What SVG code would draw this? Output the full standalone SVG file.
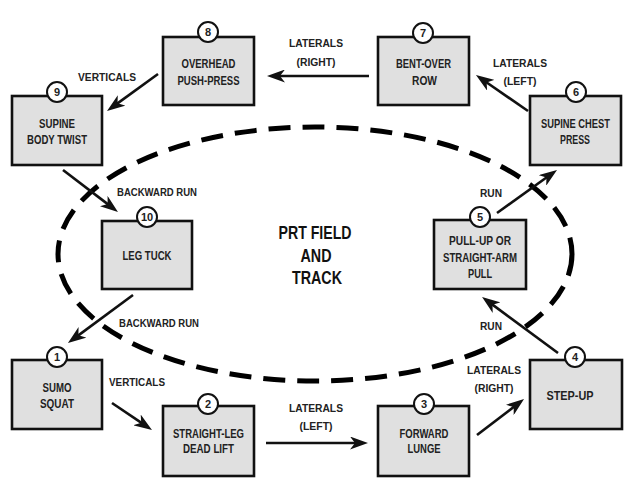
<svg xmlns="http://www.w3.org/2000/svg" width="625" height="483" viewBox="0 0 625 483">
<defs>
<style>
.box{fill:#e0e0e0;stroke:#111;stroke-width:2.6}
.num{fill:#fff;stroke:#111;stroke-width:2}
.t{font-family:"Liberation Sans Narrow","Liberation Sans",Arial,sans-serif;font-weight:bold;font-size:13px;fill:#222;text-anchor:middle}
.n{font-family:"Liberation Sans Narrow","Liberation Sans",Arial,sans-serif;font-weight:bold;font-size:11px;fill:#222;text-anchor:middle}
.l{font-family:"Liberation Sans Narrow","Liberation Sans",Arial,sans-serif;font-weight:bold;font-size:11.5px;fill:#222;text-anchor:middle}
.c{font-family:"Liberation Sans Narrow","Liberation Sans",Arial,sans-serif;font-weight:bold;font-size:18px;fill:#111;text-anchor:middle}
.a{fill:none;stroke:#111;stroke-width:2.6;marker-end:url(#ah)}
.track{fill:none;stroke:#000;stroke-width:5;stroke-dasharray:22 12}
</style>
<marker id="ah" markerUnits="userSpaceOnUse" viewBox="0 0 18 13" markerWidth="18" markerHeight="13" refX="8" refY="6.5" orient="auto">
<path d="M0,0 L18,6.5 L0,13 L5,6.5 z" fill="#111"/>
</marker>
</defs>
<rect width="625" height="483" fill="#fff"/>

<ellipse class="track" cx="315" cy="254" rx="257" ry="127"/>

<g id="center-label">
<text class="c" x="315" y="238.5" textLength="73" lengthAdjust="spacingAndGlyphs">PRT FIELD</text>
<text class="c" x="316" y="261.5" textLength="31" lengthAdjust="spacingAndGlyphs">AND</text>
<text class="c" x="317" y="283.5" textLength="50" lengthAdjust="spacingAndGlyphs">TRACK</text>
</g>

<g id="connectors">
<line class="a" x1="369" y1="76" x2="277" y2="76"/>
<line class="a" x1="528" y1="111" x2="484.2" y2="80.7"/>
<line class="a" x1="158" y1="74" x2="115.1" y2="105.1"/>
<line class="a" x1="63" y1="170" x2="110" y2="205.9"/>
<line class="a" x1="133" y1="295" x2="76" y2="337.1"/>
<line class="a" x1="112" y1="403" x2="143.7" y2="424.4"/>
<line class="a" x1="266" y1="443" x2="358" y2="443"/>
<line class="a" x1="477" y1="435" x2="516.1" y2="405.1"/>
<line class="a" x1="558" y1="353" x2="490.1" y2="302.9"/>
<line class="a" x1="497" y1="213" x2="548.9" y2="175.8"/>
<text class="l" x="316" y="47" textLength="54" lengthAdjust="spacingAndGlyphs">LATERALS</text>
<text class="l" x="316" y="66" textLength="39" lengthAdjust="spacingAndGlyphs">(RIGHT)</text>
<text class="l" x="520" y="67" textLength="54" lengthAdjust="spacingAndGlyphs">LATERALS</text>
<text class="l" x="520" y="85" textLength="33" lengthAdjust="spacingAndGlyphs">(LEFT)</text>
<text class="l" x="107" y="81" textLength="58" lengthAdjust="spacingAndGlyphs">VERTICALS</text>
<text class="l" x="157" y="196" textLength="80" lengthAdjust="spacingAndGlyphs">BACKWARD RUN</text>
<text class="l" x="159" y="327" textLength="80" lengthAdjust="spacingAndGlyphs">BACKWARD RUN</text>
<text class="l" x="137" y="386" textLength="56" lengthAdjust="spacingAndGlyphs">VERTICALS</text>
<text class="l" x="316" y="412" textLength="54" lengthAdjust="spacingAndGlyphs">LATERALS</text>
<text class="l" x="316" y="430" textLength="33" lengthAdjust="spacingAndGlyphs">(LEFT)</text>
<text class="l" x="494" y="374" textLength="54" lengthAdjust="spacingAndGlyphs">LATERALS</text>
<text class="l" x="494" y="392" textLength="39" lengthAdjust="spacingAndGlyphs">(RIGHT)</text>
<text class="l" x="491" y="330" textLength="22" lengthAdjust="spacingAndGlyphs">RUN</text>
<text class="l" x="491" y="197" textLength="22" lengthAdjust="spacingAndGlyphs">RUN</text>
</g>

<g id="node-1">
<rect class="box" x="12" y="360" width="90" height="69"/>
<circle class="num" cx="57" cy="357" r="10"/>
<text class="n" x="57" y="361">1</text>
<text class="t" x="57" y="392" textLength="29" lengthAdjust="spacingAndGlyphs">SUMO</text>
<text class="t" x="57" y="408" textLength="34" lengthAdjust="spacingAndGlyphs">SQUAT</text>
</g>

<g id="node-2">
<rect class="box" x="163" y="406" width="91" height="70"/>
<circle class="num" cx="208" cy="404" r="10"/>
<text class="n" x="208" y="408">2</text>
<text class="t" x="208.5" y="438" textLength="71" lengthAdjust="spacingAndGlyphs">STRAIGHT-LEG</text>
<text class="t" x="208.5" y="453" textLength="51" lengthAdjust="spacingAndGlyphs">DEAD LIFT</text>
</g>

<g id="node-3">
<rect class="box" x="378" y="406" width="91" height="70"/>
<circle class="num" cx="424" cy="404" r="10"/>
<text class="n" x="424" y="408">3</text>
<text class="t" x="424" y="438" textLength="49" lengthAdjust="spacingAndGlyphs">FORWARD</text>
<text class="t" x="424" y="453" textLength="33" lengthAdjust="spacingAndGlyphs">LUNGE</text>
</g>

<g id="node-4">
<rect class="box" x="530" y="360" width="92" height="69"/>
<circle class="num" cx="575" cy="357" r="10"/>
<text class="n" x="575" y="361">4</text>
<text class="t" x="570" y="400" textLength="47" lengthAdjust="spacingAndGlyphs">STEP-UP</text>
</g>

<g id="node-5">
<rect class="box" x="434" y="220" width="92" height="69"/>
<circle class="num" cx="480" cy="217" r="10"/>
<text class="n" x="480" y="221">5</text>
<text class="t" x="480" y="245" textLength="62" lengthAdjust="spacingAndGlyphs">PULL-UP OR</text>
<text class="t" x="480" y="262" textLength="74" lengthAdjust="spacingAndGlyphs">STRAIGHT-ARM</text>
<text class="t" x="480" y="278" textLength="24" lengthAdjust="spacingAndGlyphs">PULL</text>
</g>

<g id="node-6">
<rect class="box" x="530" y="96" width="91" height="69"/>
<circle class="num" cx="576" cy="92" r="10"/>
<text class="n" x="576" y="96">6</text>
<text class="t" x="575.5" y="128" font-size="12" textLength="69" lengthAdjust="spacingAndGlyphs">SUPINE CHEST</text>
<text class="t" x="575" y="144" textLength="30" lengthAdjust="spacingAndGlyphs">PRESS</text>
</g>

<g id="node-7">
<rect class="box" x="378" y="37" width="91" height="68"/>
<circle class="num" cx="423" cy="33" r="10"/>
<text class="n" x="423" y="37">7</text>
<text class="t" x="423.5" y="68" textLength="55" lengthAdjust="spacingAndGlyphs">BENT-OVER</text>
<text class="t" x="424.5" y="85" textLength="25" lengthAdjust="spacingAndGlyphs">ROW</text>
</g>

<g id="node-8">
<rect class="box" x="163" y="37" width="91" height="68"/>
<circle class="num" cx="208" cy="32" r="10"/>
<text class="n" x="208" y="36">8</text>
<text class="t" x="208.5" y="68" textLength="54" lengthAdjust="spacingAndGlyphs">OVERHEAD</text>
<text class="t" x="208.5" y="85" textLength="62" lengthAdjust="spacingAndGlyphs">PUSH-PRESS</text>
</g>

<g id="node-9">
<rect class="box" x="12" y="96" width="90" height="69"/>
<circle class="num" cx="57" cy="92" r="10"/>
<text class="n" x="57" y="96">9</text>
<text class="t" x="57" y="128" textLength="36" lengthAdjust="spacingAndGlyphs">SUPINE</text>
<text class="t" x="57" y="144" textLength="60" lengthAdjust="spacingAndGlyphs">BODY TWIST</text>
</g>

<g id="node-10">
<rect class="box" x="102" y="221" width="90" height="68"/>
<circle class="num" cx="147" cy="217" r="10"/>
<text class="n" x="147" y="221" font-size="10">10</text>
<text class="t" x="147" y="260" textLength="49" lengthAdjust="spacingAndGlyphs">LEG TUCK</text>
</g>
</svg>
